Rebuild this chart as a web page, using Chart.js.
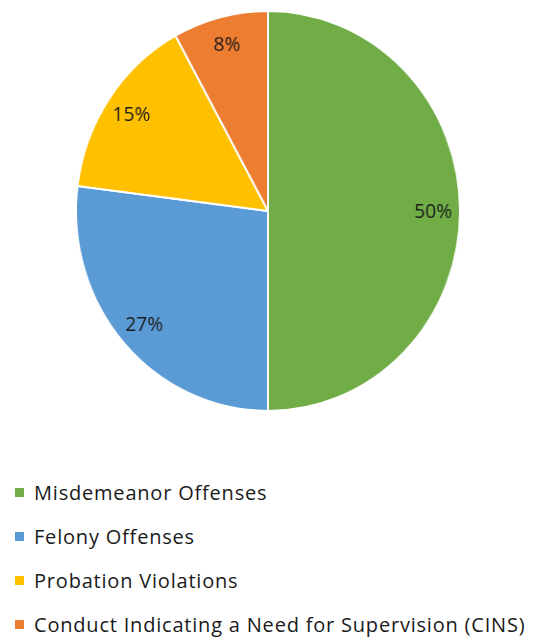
<!DOCTYPE html>
<html>
<head>
<meta charset="utf-8">
<script src="https://cdn.jsdelivr.net/npm/chart.js@4/dist/chart.umd.min.js"></script>
<style>
  html, body { margin: 0; padding: 0; background: #fff; }
  #wrap { position: relative; width: 533px; height: 638px; overflow: hidden; }
  #pie { position: absolute; left: 0; top: 0; width: 533px; height: 422px; transform: scaleX(0.96); transform-origin: 268px 211px; }
  #legend { position: absolute; left: 15px; top: 470px; font-family: "Open Sans", sans-serif; font-size: 20px; letter-spacing: 0.8px; color: #1a1a1a; }
  .item { height: 44px; display: flex; align-items: center; white-space: nowrap; }
  .box { width: 9px; height: 9px; margin-right: 10px; flex: none; }
</style>
</head>
<body>
<div id="wrap">
  <div id="pie"><canvas id="c"></canvas></div>
  <div id="legend"></div>
</div>
<script>
const categories = ["Misdemeanor Offenses", "Felony Offenses", "Probation Violations", "Conduct Indicating a Need for Supervision (CINS)"];
const values = [50, 27, 15, 8];
const colors = ["#70AD47", "#5B9BD5", "#FFC000", "#ED7D31"];

const labelPlugin = {
  id: 'sliceLabels',
  afterDatasetsDraw(chart) {
    const ctx = chart.ctx;
    const meta = chart.getDatasetMeta(0);
    ctx.save();
    ctx.font = '20px "Open Sans", sans-serif';
    ctx.fillStyle = '#1a1a1a';
    ctx.textAlign = 'center';
    ctx.textBaseline = 'middle';
    meta.data.forEach((arc, i) => {
      const p = arc.getProps(['x', 'y', 'startAngle', 'endAngle', 'outerRadius'], true);
      const mid = (p.startAngle + p.endAngle) / 2;
      const r = p.outerRadius * 0.86;
      ctx.fillText(values[i] + '%', p.x + Math.cos(mid) * r, p.y + Math.sin(mid) * r + 1);
    });
    ctx.restore();
  }
};

new Chart(document.getElementById('c'), {
  type: 'pie',
  data: {
    labels: categories,
    datasets: [{ data: values, backgroundColor: colors, borderColor: '#fff', borderWidth: 2 }]
  },
  options: {
    responsive: true,
    maintainAspectRatio: false,
    animation: false,
    layout: { padding: { top: 10, bottom: 10, left: 3 } },
    plugins: { legend: { display: false }, tooltip: { enabled: false } }
  },
  plugins: [labelPlugin]
});

const legend = document.getElementById('legend');
categories.forEach((c, i) => {
  const d = document.createElement('div');
  d.className = 'item';
  d.innerHTML = '<span class="box" style="background:' + colors[i] + '"></span><span>' + c + '</span>';
  legend.appendChild(d);
});
</script>
</body>
</html>
